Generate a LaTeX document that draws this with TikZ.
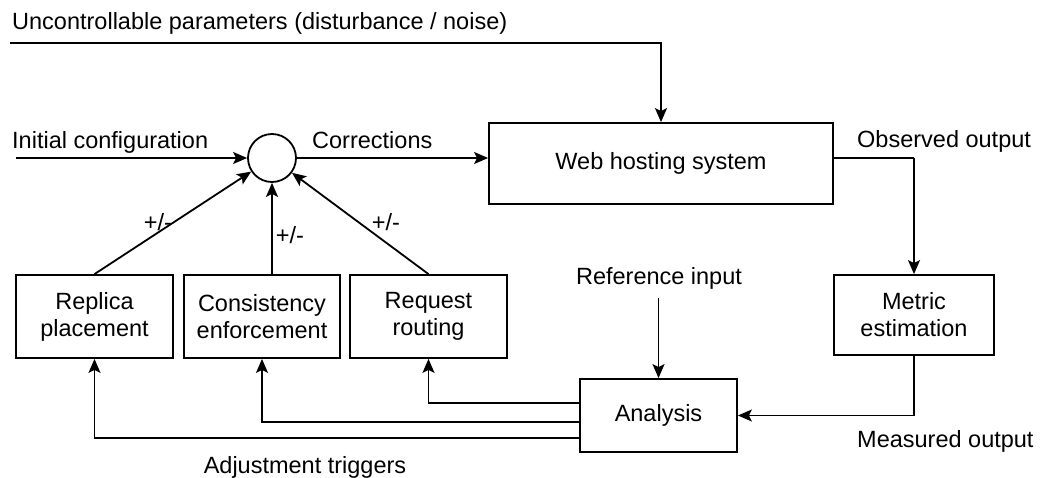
\documentclass[tikz,border=0pt]{standalone}
\usepackage{fontspec}
\setmainfont{Liberation Sans}
\usetikzlibrary{arrows.meta}
\begin{document}
\begin{tikzpicture}[x=1pt,y=-1pt,
  every node/.style={font=\fontsize{23.5}{27}\selectfont, inner sep=0pt},
  blk/.style={draw, line width=1.8pt, align=center, minimum height=83pt, minimum width=157pt},
  conn/.style={line width=1.8pt, -{Stealth[length=14pt,width=12pt,inset=3pt]}},
  ln/.style={line width=1.8pt}]
\useasboundingbox (0,0) rectangle (1045,477);

% blocks
\node[blk, minimum width=344pt, minimum height=81pt] (web) at (661,163.5) {Web hosting system};
\node[draw, circle, line width=1.8pt, minimum size=48pt] (circ) at (272,158) {};
\node[blk] (rep) at (94.5,316.5) {Replica\\placement};
\node[blk, minimum width=156pt] (cons) at (262,316.5) {Consistency\\enforcement};
\node[blk] (req) at (428.5,316.5) {Request\\routing};
\node[blk, minimum width=160pt, minimum height=80pt] (met) at (914,315) {Metric\\estimation};
\node[blk, minimum height=73pt] (ana) at (658.5,415.5) {Analysis};

% texts
\node[anchor=base west] (tdist) at (12,29.5) {Uncontrollable parameters (disturbance / noise)};
\node[anchor=base west] (tinit) at (12,148) {Initial configuration};
\node[anchor=base west] (tcorr) at (312,148) {Corrections};
\node[anchor=base west] (tobs) at (857,147) {Observed output};
\node[anchor=base] (tref) at (659,284) {Reference input};
\node[anchor=base west] (tmeas) at (857,447) {Measured output};
\node[anchor=base] (tadj) at (305,473) {Adjustment triggers};
\node (pm1) at (158,222) {+/-};
\node (pm2) at (290,235) {+/-};
\node (pm3) at (386,222) {+/-};

% free ends
\coordinate (dstart) at (10,43);
\coordinate (istart) at (16,158);
\coordinate (obs) at (914,158);
\coordinate (refin) at (658.5,298);

% connectors
\draw[conn] (dstart) -| (web.north);
\draw[conn] (istart) -- (circ.west);
\draw[conn] (circ.east) -- (circ.east -| web.west);
\draw[ln] (web.east |- obs) -- (obs);
\draw[conn] (obs) -- (met.north);
\draw[conn] (met.south) |- (ana.east);
\draw[conn] (refin) -- (ana.north);
\draw[conn] ([yshift=12.5pt]ana.west) -| (req.south);
\draw[conn] ([yshift=-6.5pt]ana.west) -| (cons.south);
\draw[conn] ([yshift=-22.5pt]ana.west) -| (rep.south);
\draw[conn] (rep.north) -- (circ);
\draw[conn] (circ.south |- cons.north) -- (circ.south);
\draw[conn] (req.north) -- (circ);
\end{tikzpicture}
\end{document}
